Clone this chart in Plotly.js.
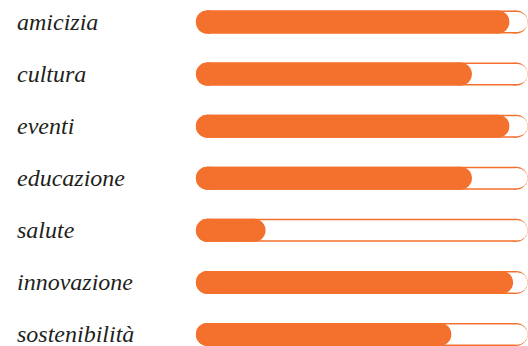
<!DOCTYPE html>
<html>
<head>
<meta charset="utf-8">
<script src="https://cdn.plot.ly/plotly-3.0.1.min.js"></script>
<style>html,body{margin:0;padding:0;background:#fff;}#chart{width:528px;height:346px;}</style>
</head>
<body>
<div id="chart"></div>
<script>
const categories = ["amicizia", "cultura", "eventi", "educazione", "salute", "innovazione", "sostenibilità"];
const values = [94.5, 83.2, 94.5, 83.2, 21, 95.6, 77];
const trackMax = 100;

const W = 528, H = 346;
const xRange = [-59.04, 100.1];
const yRange = [6.221, -0.4224];
const pxPerX = W / (xRange[1] - xRange[0]);
const barPx = 23, innerPx = 20;
const ORANGE = "#F3702D";

function pill(ends, thick) {
  const r = thick / 2 / pxPerX;
  const xs = [], ys = [];
  categories.forEach((c, i) => {
    xs.push(0 + r, ends[i] - r, null);
    ys.push(c, c, null);
  });
  return {xs, ys};
}
function trace(ends, thick, color) {
  const p = pill(ends, thick);
  return {
    type: "scatter", mode: "lines+markers", x: p.xs, y: p.ys,
    line: {color: color, width: thick}, marker: {color: color, size: thick, line: {width: 0}},
    hoverinfo: "skip", showlegend: false, cliponaxis: false, connectgaps: false
  };
}
const tracks = categories.map(() => trackMax);
const data = [
  trace(tracks, barPx, ORANGE),
  trace(tracks, innerPx, "#ffffff"),
  trace(values, barPx, ORANGE)
];
const annotations = categories.map(c => ({
  xref: "paper", yref: "y", x: 15 / W, y: c, xanchor: "left", yanchor: "middle",
  text: c, showarrow: false,
  font: {family: "Liberation Serif, Times New Roman, serif", size: 24, style: "italic", color: "#231F20"}
}));
const layout = {
  width: W, height: H, margin: {l: 0, r: 0, t: 0, b: 0},
  paper_bgcolor: "#fff", plot_bgcolor: "#fff",
  xaxis: {range: xRange, visible: false, fixedrange: true},
  yaxis: {type: "category", categoryarray: categories, range: yRange, visible: false, fixedrange: true},
  annotations: annotations, showlegend: false
};
Plotly.newPlot("chart", data, layout, {displayModeBar: false, staticPlot: true});
</script>
</body>
</html>
